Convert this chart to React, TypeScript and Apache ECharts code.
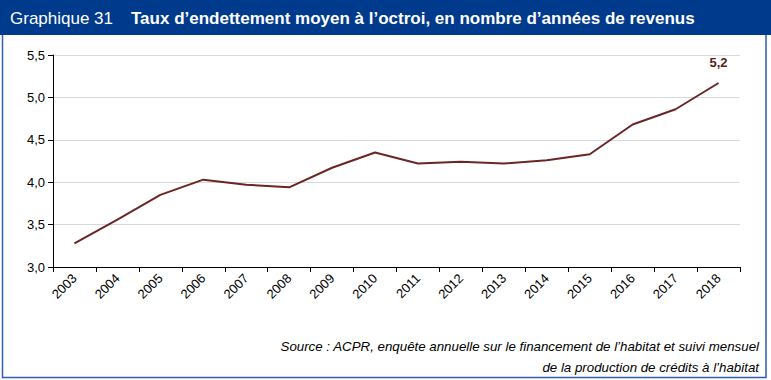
import React, { useEffect, useRef } from "react";
import * as echarts from "echarts";

const years = ["2003","2004","2005","2006","2007","2008","2009","2010","2011","2012","2013","2014","2015","2016","2017","2018"];
const debtRatio = [3.28, 3.56, 3.85, 4.03, 3.97, 3.94, 4.17, 4.35, 4.22, 4.24, 4.22, 4.26, 4.33, 4.68, 4.86, 5.17];
const lastLabel = "5,2";
const headerNumber = "Graphique 31";
const headerTitle = "Taux d’endettement moyen à l’octroi, en nombre d’années de revenus";
const sourceLines = [
  "Source : ACPR, enquête annuelle sur le financement de l’habitat et suivi mensuel",
  "de la production de crédits à l’habitat",
];

export default function App() {
  const ref = useRef<HTMLDivElement>(null);
  useEffect(() => {
    if (!ref.current) return;
    const chart = echarts.init(ref.current, null, { renderer: "svg" });
    const blue = "#003a8c";
    const borderBlue = "#2f5fae";
    const font = "'Liberation Sans', Arial, sans-serif";
    const lastIdx = debtRatio.length - 1;
    chart.setOption({
      animation: false,
      textStyle: { fontFamily: font },
      grid: { left: 53, right: 31, top: 55, bottom: 113 },
      xAxis: {
        type: "category",
        data: years,
        boundaryGap: true,
        axisLine: { lineStyle: { color: "#000", width: 1 } },
        axisTick: { show: true, length: 5, lineStyle: { color: "#000" } },
        axisLabel: { rotate: 45, color: "#000", fontSize: 13, fontFamily: font, margin: 9 },
      },
      yAxis: {
        type: "value",
        min: 3,
        max: 5.5,
        interval: 0.5,
        axisLine: { show: true, lineStyle: { color: "#000", width: 1 } },
        axisTick: { show: true, length: 5, lineStyle: { color: "#000" } },
        splitLine: { lineStyle: { color: "#d9d9d9", width: 1 } },
        axisLabel: {
          color: "#000",
          fontSize: 13,
          fontFamily: font,
          margin: 8,
          formatter: (v: number) => v.toFixed(1).replace(".", ","),
        },
      },
      series: [
        {
          type: "line",
          data: debtRatio,
          symbol: "circle",
          symbolSize: 0.1,
          showSymbol: true,
          itemStyle: { color: "#6a2626" },
          label: {
            show: true,
            position: "top",
            distance: 14,
            formatter: (p: any) => (p.dataIndex === lastIdx ? lastLabel : ""),
            color: "#5a1e1e",
            fontWeight: "bold",
            fontSize: 13,
            fontFamily: font,
          },
          lineStyle: { color: "#6a2626", width: 2 },
        },
      ],
      graphic: [
        { type: "rect", shape: { x: 0, y: 0, width: 771, height: 35 }, style: { fill: blue } },
        {
          type: "text",
          x: 10,
          y: 18,
          style: { text: headerNumber, fill: "#fff", fontSize: 17, fontFamily: font, verticalAlign: "middle" },
        },
        {
          type: "text",
          x: 131,
          y: 18,
          style: { text: headerTitle, fill: "#fff", fontSize: 17, fontWeight: "bold", fontFamily: font, verticalAlign: "middle" },
        },
        {
          type: "polyline",
          shape: { points: [[2.5, 35], [2.5, 377.5], [766, 377.5], [766, 35]] },
          style: { stroke: borderBlue, lineWidth: 1.5, fill: "none" },
        },
        {
          type: "text",
          x: 759,
          y: 346,
          style: { text: sourceLines[0], fill: "#000", fontSize: 13.3, fontStyle: "italic", fontFamily: font, align: "right", verticalAlign: "middle" },
        },
        {
          type: "text",
          x: 759,
          y: 367,
          style: { text: sourceLines[1], fill: "#000", fontSize: 13.3, fontStyle: "italic", fontFamily: font, align: "right", verticalAlign: "middle" },
        },
      ],
    });
    return () => chart.dispose();
  }, []);
  return (
    <div
      ref={ref}
      style={{ position: "fixed", left: 0, top: 0, width: 771, height: 380, background: "#fff" }}
    />
  );
}
